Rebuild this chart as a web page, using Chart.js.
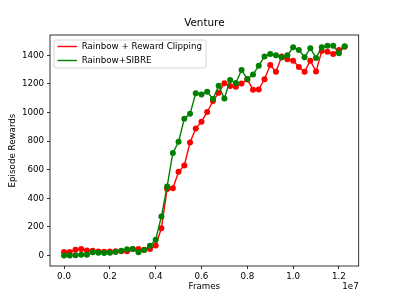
<!DOCTYPE html>
<html>
<head>
<meta charset="utf-8">
<script src="https://cdn.jsdelivr.net/npm/chart.js@4.4.0/dist/chart.umd.min.js"></script>
<style>
    html, body { margin: 0; padding: 0; background: #fff; }
    #wrap { width: 399px; height: 299px; }
</style>
</head>
<body>
<div id="wrap"><canvas id="chart" width="399" height="299"></canvas></div>
<script>
// --- DATA ---
const frames = [
    0, 250000, 500000, 750000, 1000000, 1250000, 1500000, 1750000, 2000000, 2250000,
    2500000, 2750000, 3000000, 3250000, 3500000, 3750000, 4000000, 4250000, 4500000, 4750000,
    5000000, 5250000, 5500000, 5750000, 6000000, 6250000, 6500000, 6750000, 7000000, 7250000,
    7500000, 7750000, 8000000, 8250000, 8500000, 8750000, 9000000, 9250000, 9500000, 9750000,
    10000000, 10250000, 10500000, 10750000, 11000000, 11250000, 11500000, 11750000, 12000000, 12250000
];
const rewardClipping = [
    24, 24, 40, 45, 35, 33, 28, 26, 28, 30,
    30, 30, 45, 45, 40, 45, 70, 190, 465, 470,
    585, 630, 790, 888, 936, 1004, 1080, 1138, 1205, 1186,
    1180, 1203, 1232, 1160, 1162, 1233, 1332, 1286, 1392, 1372,
    1363, 1319, 1286, 1363, 1288, 1431, 1426, 1410, 1438, 1461
];
const sibre = [
    0, 0, 2, 5, 5, 22, 20, 18, 20, 25,
    33, 43, 45, 22, 38, 68, 110, 273, 482, 717,
    796, 957, 991, 1135, 1127, 1146, 1094, 1187, 1098, 1228,
    1206, 1298, 1234, 1266, 1328, 1392, 1410, 1400, 1385, 1400,
    1456, 1438, 1386, 1450, 1382, 1456, 1468, 1468, 1415, 1463
];
const seriesNames = ['Rainbow + Reward Clipping', 'Rainbow+SIBRE'];
const xTicks = [0, 2000000, 4000000, 6000000, 8000000, 10000000, 12000000];
const yTicks = [0, 200, 400, 600, 800, 1000, 1200, 1400];

// --- CONFIG ---
const FONT = "'DejaVu Sans', sans-serif";
const RED = '#ff0000';
const GREEN = '#008000';

const toPoints = (ys) => frames.map((f, i) => ({ x: f, y: ys[i] }));

// spines, title, offset text and legend drawn on top
const decorPlugin = {
    id: 'decor',
    afterDraw(chart) {
        const { ctx, chartArea: a } = chart;
        ctx.save();
        ctx.strokeStyle = '#000';
        ctx.lineWidth = 0.8;
        ctx.strokeRect(a.left, a.top, a.right - a.left, a.bottom - a.top);

        ctx.fillStyle = '#000';
        ctx.textBaseline = 'middle';
        ctx.font = `10.4px ${FONT}`;
        ctx.textAlign = 'center';
        ctx.fillText('Venture', (a.left + a.right) / 2, 23);

        ctx.font = `8.7px ${FONT}`;
        ctx.textAlign = 'right';
        ctx.fillText('1e7', a.right, 287);

        // legend
        const lx = 54, ly = 40, lw = 152, lh = 28;
        ctx.beginPath();
        ctx.roundRect(lx, ly, lw, lh, 2);
        ctx.fillStyle = 'rgba(255,255,255,0.8)';
        ctx.fill();
        ctx.strokeStyle = '#cccccc';
        ctx.lineWidth = 0.8;
        ctx.stroke();

        const rows = [[seriesNames[0], RED, 46.5], [seriesNames[1], GREEN, 60.5]];
        rows.forEach(([label, color, y]) => {
            ctx.beginPath();
            ctx.strokeStyle = color;
            ctx.lineWidth = 1.4;
            ctx.moveTo(57.5, y);
            ctx.lineTo(77, y);
            ctx.stroke();
            ctx.fillStyle = '#000';
            ctx.textAlign = 'left';
            ctx.fillText(label, 81.7, y);
        });
        ctx.restore();
    }
};

const tickGrid = { display: true, drawOnChartArea: false, drawTicks: true, tickLength: 3, color: '#000', lineWidth: 0.8 };

new Chart(document.getElementById('chart'), {
    type: 'line',
    data: {
        datasets: [
            {
                label: seriesNames[0],
                data: toPoints(rewardClipping),
                borderColor: RED,
                backgroundColor: RED,
                borderWidth: 1.4,
                pointRadius: 3,
                pointBorderWidth: 0,
                pointBackgroundColor: RED,
                order: 2,
            },
            {
                label: seriesNames[1],
                data: toPoints(sibre),
                borderColor: GREEN,
                backgroundColor: GREEN,
                borderWidth: 1.4,
                pointRadius: 3,
                pointBorderWidth: 0,
                pointBackgroundColor: GREEN,
                order: 1,
            }
        ]
    },
    options: {
        responsive: false,
        animation: false,
        devicePixelRatio: 1,
        layout: { padding: { top: 35, right: 40.3, left: 0, bottom: 0 } },
        plugins: {
            legend: { display: false },
            title: { display: false },
            tooltip: { enabled: false },
        },
        scales: {
            x: {
                type: 'linear',
                min: -612500,
                max: 12862500,
                afterBuildTicks: (s) => { s.ticks = xTicks.map(v => ({ value: v })); },
                afterFit: (s) => { s.height = 33; },
                grid: tickGrid,
                border: { display: false },
                ticks: {
                    color: '#000',
                    padding: 3,
                    maxRotation: 0,
                    font: { family: FONT, size: 8.7 },
                    callback: (v) => (v / 1e7).toFixed(1),
                },
                title: {
                    display: true,
                    text: 'Frames',
                    color: '#000',
                    font: { family: FONT, size: 8.7 },
                    padding: { top: 0, bottom: 6.8 },
                },
            },
            y: {
                min: -73.5,
                max: 1542.5,
                afterBuildTicks: (s) => { s.ticks = yTicks.map(v => ({ value: v })); },
                afterFit: (s) => { s.width = 50; },
                grid: tickGrid,
                border: { display: false },
                ticks: {
                    color: '#000',
                    padding: 3,
                    font: { family: FONT, size: 8.7 },
                    callback: (v) => String(v),
                },
                title: {
                    display: true,
                    text: 'Episode Rewards',
                    color: '#000',
                    font: { family: FONT, size: 8.7 },
                    padding: { top: 7.8, bottom: 0 },
                },
            },
        },
    },
    plugins: [decorPlugin],
});
</script>
</body>
</html>
